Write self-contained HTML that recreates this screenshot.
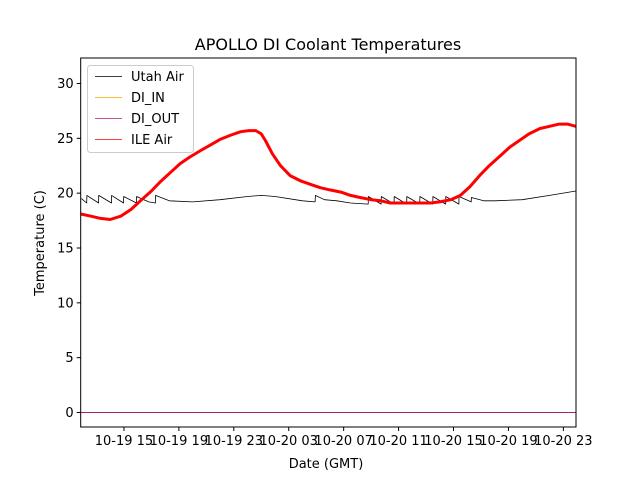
<!DOCTYPE html>
<html><head><meta charset="utf-8"><style>
body{margin:0;background:#fff}
svg text{font-family:"DejaVu Sans","Liberation Sans",sans-serif;fill:#000}
</style></head><body>
<svg id="chart" width="640" height="480" viewBox="0 0 640 480" xmlns="http://www.w3.org/2000/svg">
<rect width="640" height="480" fill="#fff"/>
<text x="328" y="50" font-size="16" text-anchor="middle">APOLLO DI Coolant Temperatures</text>
<g id="plot"></g>
<text x="326" y="468" font-size="13" text-anchor="middle">Date (GMT)</text>
<text transform="translate(44,243) rotate(-90)" font-size="13" text-anchor="middle">Temperature (C)</text>
</svg>
<script>
const xTicks=[15,19,23,27,31,35,39,43,47];
const xTickLabels=["10-19 15","10-19 19","10-19 23","10-20 03","10-20 07","10-20 11","10-20 15","10-20 19","10-20 23"];
const yTicks=[0,5,10,15,20,25,30];
const ileTime=[11.85,12.6,13.3,14.0,14.76,15.5,16.2,17.0,17.7,18.4,19.1,19.8,20.6,21.3,22.0,22.8,23.5,24.1,24.6,25.0,25.3,25.8,26.4,27.1,27.9,28.6,29.3,30.0,30.8,31.5,32.2,33.0,33.7,34.4,35.1,35.8,36.6,37.3,38.0,38.8,39.5,40.2,40.9,41.6,42.4,43.1,43.8,44.5,45.3,46.0,46.7,47.3,47.9];
const ileTemp=[18.1,17.9,17.7,17.6,17.9,18.5,19.3,20.2,21.1,21.9,22.7,23.3,23.9,24.4,24.9,25.3,25.6,25.7,25.7,25.4,24.8,23.6,22.5,21.6,21.1,20.8,20.5,20.3,20.1,19.8,19.6,19.4,19.3,19.1,19.1,19.1,19.1,19.1,19.2,19.4,19.8,20.6,21.6,22.5,23.4,24.2,24.8,25.4,25.9,26.1,26.3,26.3,26.1];
const utahTime=[11.9,12.29,12.3,13.15,13.16,14.09,14.1,14.97,14.98,15.91,15.92,16.8,17.29,17.3,18.3,20,22,24,25,26,28,28.92,28.94,29.6,30.5,31.5,32.79,32.8,33.73,33.74,34.67,34.68,35.59,35.6,36.54,36.55,37.49,37.5,38.43,38.44,39.39,39.4,40.29,40.3,41.2,42,44,46,47.92];
const utahTemp=[19.5,19.1,19.8,19.1,19.8,19.1,19.8,19.1,19.7,19.1,19.7,19.2,19.1,19.8,19.3,19.2,19.4,19.7,19.8,19.7,19.3,19.2,19.8,19.4,19.3,19.1,19.0,19.7,19.0,19.7,19.0,19.7,19.0,19.7,19.0,19.7,19.0,19.7,19.0,19.7,19.0,19.7,19.2,19.6,19.3,19.3,19.4,19.8,20.2];
const diTime=[11.85,47.92];
const diInTemp=[0,0];
const diOutTemp=[0,0];

const L=80.7,R=576,T=58,B=427,XMIN=11.85,XMAX=47.92;
const sx=h=>L+(h-XMIN)/(XMAX-XMIN)*(R-L);
const sy=v=>412.5-v*10.967;
const NS="http://www.w3.org/2000/svg";
const plot=document.getElementById('plot');
function mk(tag,attrs,parent){const e=document.createElementNS(NS,tag);for(const k in attrs)e.setAttribute(k,attrs[k]);(parent||plot).appendChild(e);return e;}
mk('defs',{}).innerHTML='<clipPath id="cp"><rect x="'+L+'" y="'+T+'" width="'+(R-L)+'" height="'+(B-T)+'"/></clipPath>';
const g=mk('g',{'clip-path':'url(#cp)'});
function lineIn(xs,ys,color,w,name){
  const d=xs.map((x,i)=>(i?'L':'M')+sx(x).toFixed(1)+','+sy(ys[i]).toFixed(1)).join('');
  const p=mk('path',{d:d,fill:'none',stroke:color,'stroke-width':w,'stroke-linejoin':'round'},g);
  
  
}
lineIn(utahTime,utahTemp,'#000',0.8,'utah-air-line');
lineIn(diTime,diInTemp,'#ffa500',1,'di-in-line');
lineIn(diTime,diOutTemp,'#a8206e',1,'di-out-line');
lineIn(ileTime,ileTemp,'#ff0000',3,'ile-air-line');
const fr=mk('rect',{x:L,y:T,width:R-L,height:B-T,fill:'none',stroke:'#000','stroke-width':1});


xTicks.forEach((t,i)=>{
  const x=sx(t);
  const tk=mk('line',{x1:x,x2:x,y1:B,y2:B+4,stroke:'#000'});
  
  
  const tx=mk('text',{x:x,y:B+18,'font-size':13,'text-anchor':'middle'});
  tx.textContent=xTickLabels[i];
  
  
});
yTicks.forEach(v=>{
  const y=sy(v);
  const tk=mk('line',{x1:L-4,x2:L,y1:y,y2:y,stroke:'#000'});
  
  
  const tx=mk('text',{x:L-7,y:y+4.5,'font-size':13,'text-anchor':'end'});
  tx.textContent=v;
  
  
});
const lg=mk('g',{});


mk('rect',{x:87.5,y:65.5,width:106,height:87,rx:3,fill:'#fff','fill-opacity':0.8,stroke:'#ccc'},lg);
const names=["Utah Air","DI_IN","DI_OUT","ILE Air"];
const cols=['#000','#ffa500','#a8206e','#ff0000'];
names.forEach((n,i)=>{
  const y=76.5+i*21;
  const ln=mk('line',{x1:95,x2:122,y1:y,y2:y,stroke:cols[i],'stroke-width':0.8},lg);
  
  
  const tx=mk('text',{x:131,y:y+4.5,'font-size':13},lg);
  tx.textContent=n;
  
  
});
</script>
</body></html>
